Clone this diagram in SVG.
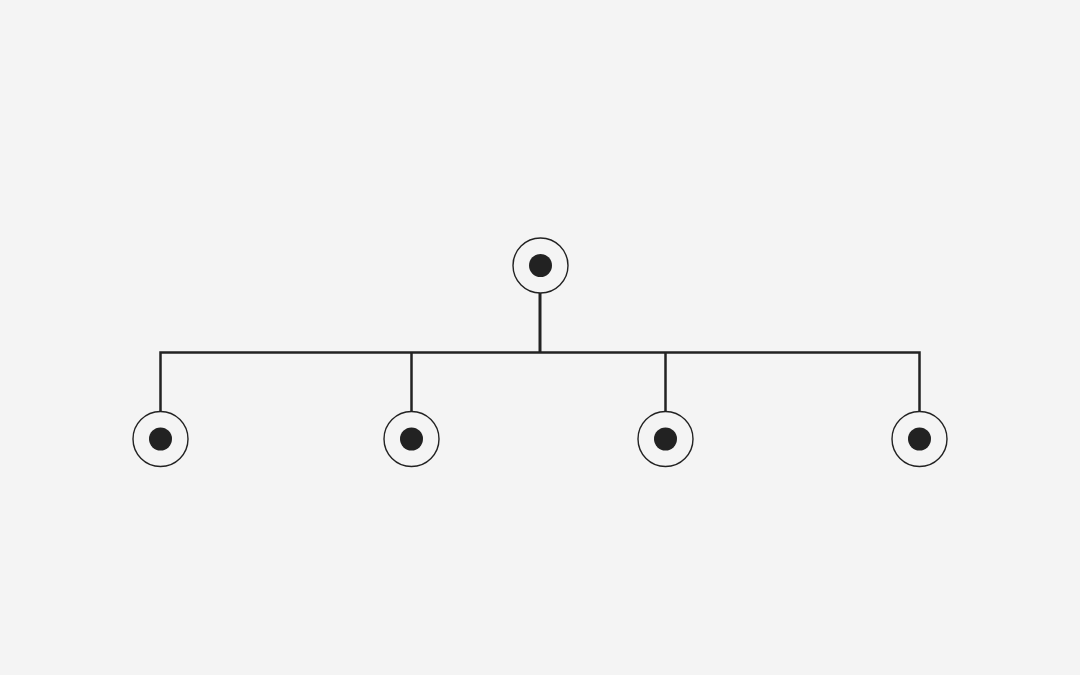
<svg xmlns="http://www.w3.org/2000/svg" width="1080" height="675" viewBox="0 0 1080 675">
<style>
.ring{fill:#f4f4f4;stroke:#222;stroke-width:1.4}
.dot{fill:#222}
.wire{fill:none;stroke:#222;stroke-width:2.5;stroke-linejoin:miter;stroke-linecap:butt}
</style>
<defs>
<g id="node"><circle class="ring" r="27.5"/><circle class="dot" r="11.5"/></g>
</defs>
<rect width="1080" height="675" fill="#f4f4f4"/>
<g id="connectors">
<path class="wire" d="M540 293V352.5" style="stroke-width:3"/>
<path class="wire" d="M160.5 411.5V352.5H919.5V411.5"/>
<path class="wire" d="M411.5 352.5V411.5M665.5 352.5V411.5"/>
</g>
<g id="root"><use href="#node" x="540.5" y="265.5"/></g>
<g id="child1"><use href="#node" x="160.5" y="439"/></g>
<g id="child2"><use href="#node" x="411.5" y="439"/></g>
<g id="child3"><use href="#node" x="665.5" y="439"/></g>
<g id="child4"><use href="#node" x="919.5" y="439"/></g>
</svg>
